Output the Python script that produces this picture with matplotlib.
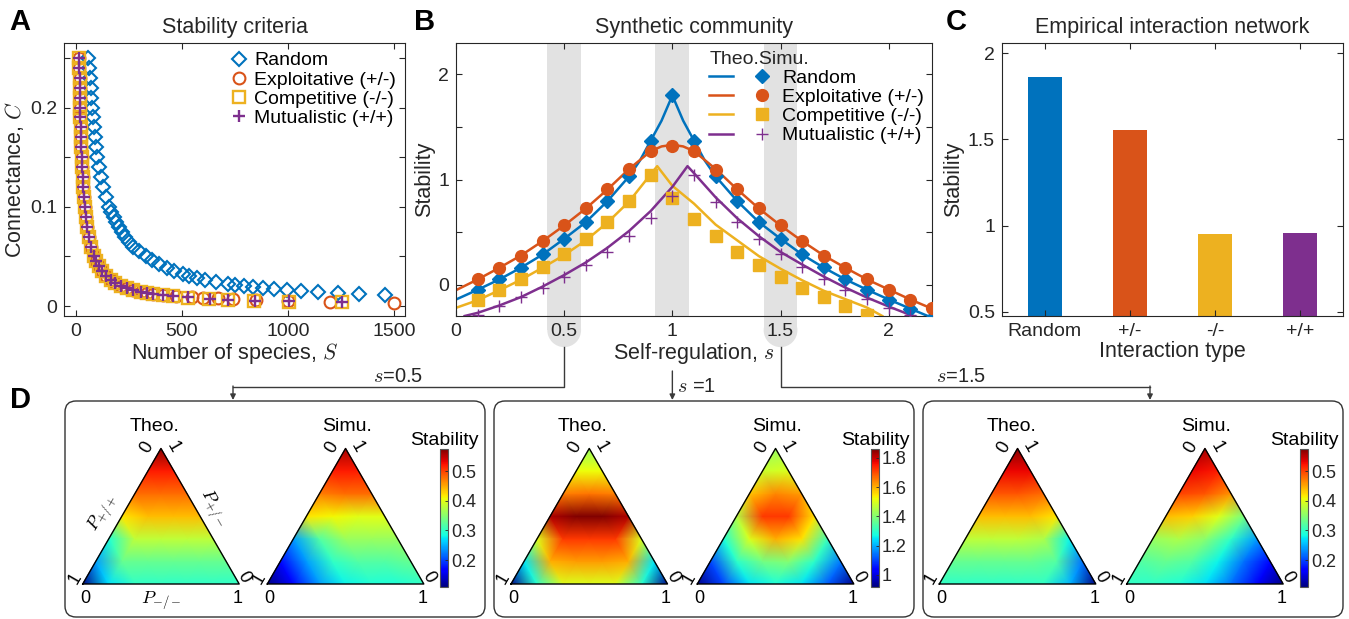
import numpy as np
import matplotlib
matplotlib.use('Agg')
import matplotlib.pyplot as plt
import matplotlib.tri as mtri
import matplotlib.transforms as mtrans
from matplotlib.patches import FancyBboxPatch, Rectangle, Ellipse
from matplotlib.legend_handler import HandlerTuple

plt.rcParams['font.family'] = ['Liberation Sans', 'DejaVu Sans']
plt.rcParams['mathtext.fontset'] = 'cm'

# ---- colours (MATLAB defaults) ----
BLUE, ORANGE, YELLOW, PURPLE = '#0072BD', '#D95319', '#EDB120', '#7E2F8E'
TXT = '#262626'

# ---- panel A: stability criteria ----
S_random = [58, 63, 66, 70, 74, 78, 83, 87, 92, 97, 101, 109, 118, 128, 142, 158,
            167, 178, 189, 202, 216, 232, 250, 271, 297, 330, 358, 392, 430, 465,
            505, 535, 570, 610, 660, 716, 750, 790, 833, 880, 935, 995, 1060, 1140,
            1233, 1332, 1458]
C_random = [0.250, 0.240, 0.230, 0.220, 0.210, 0.200, 0.190, 0.180, 0.170, 0.160,
            0.150, 0.140, 0.130, 0.120, 0.110, 0.100, 0.095, 0.090, 0.085, 0.080,
            0.075, 0.070, 0.065, 0.060, 0.055, 0.050, 0.046, 0.042, 0.038, 0.035,
            0.032, 0.030, 0.028, 0.026, 0.024, 0.022, 0.021, 0.020, 0.019, 0.018,
            0.017, 0.016, 0.015, 0.014, 0.013, 0.012, 0.011]

S_lower = [16, 17, 18, 19, 20, 21, 22, 23, 25, 27, 29, 31, 33, 35, 38, 42, 47, 53,
           61, 72, 87, 96, 108, 123, 143, 166, 187, 215, 240, 270, 307, 335, 365, 410]
C_lower = [0.25, 0.24, 0.23, 0.22, 0.21, 0.20, 0.19, 0.18, 0.17, 0.16, 0.15, 0.14,
           0.13, 0.12, 0.11, 0.10, 0.09, 0.08, 0.07, 0.06, 0.05, 0.045, 0.04, 0.035,
           0.03, 0.026, 0.023, 0.020, 0.018, 0.016, 0.014, 0.013, 0.012, 0.011]
S_exp_tail = [470, 546, 600, 670, 742, 850, 997, 1195, 1497]
C_exp_tail = [0.0100, 0.0090, 0.0085, 0.0078, 0.0070, 0.0062, 0.0052, 0.0042, 0.0032]
S_comp_tail = [460, 530, 628, 716, 838, 1006, 1253]
C_comp_tail = [0.0098, 0.0085, 0.0072, 0.0062, 0.0053, 0.0045, 0.0036]
S_mut_tail = [460, 530, 631, 716, 844, 1006, 1253]
C_mut_tail = [0.0100, 0.0088, 0.0074, 0.0064, 0.0056, 0.0049, 0.0042]

# ---- panel B: synthetic community ----
s_theo_rand = [0, 0.1, 0.2, 0.3, 0.4, 0.5, 0.6, 0.7, 0.8, 0.85, 0.9, 0.95, 1.0, 1.05,
               1.1, 1.15, 1.2, 1.3, 1.4, 1.5, 1.6, 1.7, 1.8, 1.9, 2.0, 2.1, 2.2]
theo_rand = [-0.143, -0.05, 0.048, 0.16, 0.285, 0.435, 0.594, 0.794, 1.03, 1.18, 1.37,
             1.56, 1.80, 1.56, 1.37, 1.18, 1.03, 0.794, 0.594, 0.435, 0.285, 0.16,
             0.048, -0.05, -0.143, -0.23, -0.317]
s_theo_exp = [0, 0.1, 0.2, 0.3, 0.4, 0.5, 0.6, 0.7, 0.8, 0.9, 0.95, 1.0, 1.05, 1.1,
              1.2, 1.3, 1.4, 1.5, 1.6, 1.7, 1.8, 1.9, 2.0, 2.1, 2.2]
theo_exp = [-0.054, 0.048, 0.159, 0.276, 0.413, 0.562, 0.724, 0.905, 1.10, 1.27, 1.315,
            1.33, 1.315, 1.27, 1.10, 0.905, 0.724, 0.562, 0.413, 0.276, 0.159, 0.048,
            -0.048, -0.143, -0.23]
s_theo_comp = [0, 0.1, 0.2, 0.3, 0.4, 0.5, 0.6, 0.7, 0.8, 0.9, 0.93, 1.0, 1.1, 1.2,
               1.3, 1.4, 1.5, 1.6, 1.7, 1.8, 1.9, 1.97]
theo_comp = [-0.222, -0.15, -0.055, 0.045, 0.16, 0.28, 0.42, 0.59, 0.79, 1.05, 1.127,
             0.94, 0.77, 0.57, 0.42, 0.27, 0.15, 0.04, -0.06, -0.14, -0.22, -0.30]
s_theo_mut = [0.04, 0.1, 0.2, 0.3, 0.4, 0.5, 0.6, 0.7, 0.8, 0.9, 1.0, 1.07, 1.1, 1.2,
              1.3, 1.4, 1.5, 1.6, 1.7, 1.8, 1.9, 2.0, 2.1, 2.13]
theo_mut = [-0.30, -0.27, -0.20, -0.12, -0.02, 0.09, 0.21, 0.35, 0.51, 0.70, 0.93, 1.127,
            1.06, 0.83, 0.63, 0.46, 0.31, 0.19, 0.075, -0.03, -0.125, -0.21, -0.29, -0.31]

s_simu = [0.1, 0.2, 0.3, 0.4, 0.5, 0.6, 0.7, 0.8, 0.9, 1.0, 1.1, 1.2, 1.3, 1.4, 1.5,
          1.6, 1.7, 1.8, 1.9, 2.0, 2.1, 2.2]
simu_rand = [-0.048, 0.048, 0.159, 0.286, 0.435, 0.594, 0.794, 1.03, 1.371, 1.80, 1.371,
             1.03, 0.794, 0.594, 0.435, 0.286, 0.165, 0.048, -0.054, -0.143, -0.232, -0.317]
simu_exp = [0.048, 0.159, 0.276, 0.413, 0.562, 0.724, 0.905, 1.102, 1.276, 1.317, 1.270,
            1.095, 0.905, 0.724, 0.562, 0.413, 0.276, 0.159, 0.048, -0.048, -0.143, -0.222]
simu_comp = [-0.143, -0.048, 0.048, 0.165, 0.286, 0.429, 0.597, 0.794, 1.041, 0.825,
             0.625, 0.46, 0.308, 0.184, 0.073, -0.035, -0.121, -0.206, -0.286]
simu_mut = [-0.286, -0.2, -0.121, -0.032, 0.073, 0.184, 0.311, 0.46, 0.635, 0.841, 1.041,
            0.787, 0.597, 0.429, 0.286, 0.165, 0.048, -0.048, -0.137, -0.222, -0.295]
band_centres = [0.5, 1.0, 1.5]

# ---- panel C: empirical network ----
types = ['Random', '+/-', '-/-', '+/+']
empirical = [1.863, 1.552, 0.952, 0.955]

# ---- panel D: ternary stability maps, rows from base (7 nodes) to apex (1 node) ----
theo_05 = [[0.11, 0.27, 0.30, 0.30, 0.30, 0.30, 0.30],
           [0.24, 0.33, 0.33, 0.33, 0.33, 0.33],
           [0.29, 0.38, 0.38, 0.38, 0.38],
           [0.42, 0.44, 0.44, 0.44],
           [0.48, 0.48, 0.48],
           [0.52, 0.52],
           [0.57]]
simu_05 = [[0.11, 0.17, 0.24, 0.28, 0.29, 0.29, 0.30],
           [0.17, 0.24, 0.30, 0.32, 0.32, 0.33],
           [0.24, 0.32, 0.36, 0.36, 0.36],
           [0.42, 0.41, 0.40, 0.40],
           [0.47, 0.48, 0.48],
           [0.52, 0.52],
           [0.56]]
theo_10 = [[0.93, 1.30, 1.50, 1.50, 1.50, 1.30, 0.93],
           [1.25, 1.60, 1.62, 1.62, 1.60, 1.25],
           [1.50, 1.72, 1.72, 1.72, 1.50],
           [1.82, 1.86, 1.86, 1.82],
           [1.65, 1.66, 1.65],
           [1.52, 1.52],
           [1.42]]
simu_10 = [[0.93, 1.10, 1.25, 1.28, 1.25, 1.12, 0.93],
           [1.10, 1.30, 1.38, 1.40, 1.30, 1.15],
           [1.28, 1.50, 1.60, 1.55, 1.32],
           [1.45, 1.72, 1.72, 1.55],
           [1.58, 1.64, 1.62],
           [1.48, 1.50],
           [1.42]]
theo_15 = [[0.30, 0.30, 0.30, 0.30, 0.30, 0.25, 0.11],
           [0.33, 0.33, 0.33, 0.33, 0.32, 0.22],
           [0.38, 0.38, 0.38, 0.37, 0.28],
           [0.44, 0.44, 0.44, 0.42],
           [0.49, 0.49, 0.48],
           [0.53, 0.53],
           [0.57]]
simu_15 = [[0.30, 0.30, 0.29, 0.27, 0.22, 0.16, 0.11],
           [0.32, 0.33, 0.32, 0.28, 0.22, 0.17],
           [0.36, 0.37, 0.35, 0.30, 0.24],
           [0.44, 0.43, 0.40, 0.34],
           [0.50, 0.49, 0.46],
           [0.53, 0.52],
           [0.56]]
clims = [(0.11, 0.575), (0.92, 1.86), (0.11, 0.575)]
cbar_ticks = [[0.2, 0.3, 0.4, 0.5], [1, 1.2, 1.4, 1.6, 1.8], [0.2, 0.3, 0.4, 0.5]]
cbar_labels = [['0.2', '0.3', '0.4', '0.5'], ['1', '1.2', '1.4', '1.6', '1.8'],
               ['0.2', '0.3', '0.4', '0.5']]
s_labels = [r'$s$=0.5', r'$s$ =1', r'$s$=1.5']

W, H = 1349, 619
fig = plt.figure(figsize=(W / 100, H / 100), dpi=100)

FS_TICK, FS_LAB, FS_TITLE, FS_LEG = 14, 15.5, 15.5, 14


def px_axes(l, t, r, b, **kw):
    return fig.add_axes([l / W, 1 - b / H, (r - l) / W, (b - t) / H], **kw)


def style_axes(ax):
    ax.tick_params(direction='in', top=True, right=True, length=4, width=0.8,
                   labelsize=FS_TICK, colors=TXT, pad=5)
    for sp in ax.spines.values():
        sp.set_color(TXT)
        sp.set_linewidth(0.8)


# ================= A =================
axA = px_axes(64, 43, 405, 316)
mk = dict(linestyle='none', mfc='none')
axA.plot(S_random, C_random, marker='D', mec=BLUE, ms=7.5, mew=1.5, label='Random', **mk)
axA.plot(S_lower + S_exp_tail, C_lower + C_exp_tail, marker='o', mec=ORANGE, ms=8.5,
         mew=1.5, label='Exploitative (+/-)', **mk)
axA.plot(S_lower + S_comp_tail, C_lower + C_comp_tail, marker='s', mec=YELLOW, ms=8,
         mew=1.7, label='Competitive (-/-)', **mk)
axA.plot(S_lower + S_mut_tail, C_lower + C_mut_tail, marker='+', mec=PURPLE, ms=8,
         mew=1.7, label='Mutualistic (+/+)', linestyle='none')
axA.set_xlim(-55, 1550)
axA.set_ylim(-0.01, 0.265)
axA.set_xticks([0, 500, 1000, 1500])
axA.set_yticks([0, 0.05, 0.1, 0.15, 0.2, 0.25])
axA.set_yticklabels(['0', '', '0.1', '', '0.2', ''])
style_axes(axA)
axA.set_xlabel('Number of species, $S$', fontsize=FS_LAB, color=TXT, labelpad=1)
axA.set_ylabel('Connectance, $C$', fontsize=FS_LAB, color=TXT, labelpad=3)
axA.set_title('Stability criteria', fontsize=FS_TITLE, color=TXT, pad=7)
axA.legend(loc='upper right', frameon=False, fontsize=FS_LEG, handlelength=1.0,
           handletextpad=0.3, labelspacing=0.08, borderaxespad=0.25, borderpad=0.2)

# ================= B =================
axB = px_axes(456, 43, 932, 316)
axB.patch.set_alpha(0)
blend = mtrans.blended_transform_factory(axB.transData, axB.transAxes)
hw = 0.078
for c in band_centres:
    axB.axvspan(c - hw, c + hw, color='#e2e2e2', lw=0, zorder=0)
    if c != 1.0:
        axB.add_patch(Rectangle((c - hw, -0.052), 2 * hw, 0.052, transform=blend,
                                color='#e2e2e2', lw=0, clip_on=False, zorder=0))
        axB.add_patch(Ellipse((c, -0.052), 2 * hw, 0.124, transform=blend,
                              color='#e2e2e2', lw=0, clip_on=False, zorder=0))

series = [
    (s_theo_rand, theo_rand, simu_rand, BLUE, dict(marker='D', ms=7.5, mfc=BLUE, mec=BLUE), 'Random'),
    (s_theo_exp, theo_exp, simu_exp, ORANGE, dict(marker='o', ms=8.5, mfc=ORANGE, mec=ORANGE), 'Exploitative (+/-)'),
    (s_theo_comp, theo_comp, simu_comp, YELLOW, dict(marker='s', ms=8.5, mfc=YELLOW, mec=YELLOW), 'Competitive (-/-)'),
    (s_theo_mut, theo_mut, simu_mut, PURPLE, dict(marker='+', ms=8, mec=PURPLE, mew=1.0), 'Mutualistic (+/+)'),
]
handles, labels = [], []
for s_t, th, sim, col, mstyle, lab in series:
    ln, = axB.plot(s_t, th, color=col, lw=1.8, zorder=2)
    mkr, = axB.plot(s_simu[:len(sim)], sim, linestyle='none', zorder=3, **mstyle)
    handles.append((ln, mkr))
    labels.append(lab)
axB.set_xlim(0, 2.2)
axB.set_ylim(-0.3, 2.3)
axB.set_xticks([0, 0.5, 1, 1.5, 2])
axB.set_xticklabels(['0', '0.5', '1', '1.5', '2'])
axB.set_yticks([0, 0.5, 1, 1.5, 2])
axB.set_yticklabels(['0', '', '1', '', '2'])
style_axes(axB)
axB.set_xlabel('Self-regulation, $s$', fontsize=FS_LAB, color=TXT, labelpad=1)
axB.set_ylabel('Stability', fontsize=FS_LAB, color=TXT, labelpad=2)
axB.set_title('Synthetic community', fontsize=FS_TITLE, color=TXT, pad=7)
legB = axB.legend(handles, labels, handler_map={tuple: HandlerTuple(ndivide=None, pad=0.9)},
                  title='Theo.Simu.', alignment='left', loc='upper right', frameon=False,
                  fontsize=FS_LEG, title_fontsize=FS_LEG, handlelength=3.3, handletextpad=0.45,
                  labelspacing=0.08, borderaxespad=0.2, borderpad=0.2)
legB.get_title().set_color(TXT)

# ================= C =================
axC = px_axes(1002, 43, 1343, 316)
xpos = np.arange(1, len(types) + 1)
axC.bar(xpos, empirical, width=0.4, color=[BLUE, ORANGE, YELLOW, PURPLE])
axC.set_xlim(0.5, 4.5)
axC.set_ylim(0.475, 2.06)
axC.set_xticks(xpos)
axC.set_xticklabels(types)
axC.set_yticks([0.5, 1, 1.5, 2])
axC.set_yticklabels(['0.5', '1', '1.5', '2'])
style_axes(axC)
axC.set_xlabel('Interaction type', fontsize=FS_LAB, color=TXT, labelpad=1)
axC.set_ylabel('Stability', fontsize=FS_LAB, color=TXT, labelpad=3)
axC.set_title('Empirical interaction network', fontsize=FS_TITLE, color=TXT, pad=7)

# panel letters
for lab, x, y in [('A', 20, 22), ('B', 425, 22), ('C', 956, 22), ('D', 20, 400)]:
    fig.text(x / W, 1 - y / H, lab, fontsize=21, fontweight='bold', ha='center',
             va='center', color='k')

# ================= D =================
ov = fig.add_axes([0, 0, 1, 1], zorder=5)
ov.set_xlim(0, W)
ov.set_ylim(H, 0)
ov.axis('off')

box_lefts = [65, 494, 923]
for bx in box_lefts:
    ov.add_patch(FancyBboxPatch((bx, 401), 420, 216, boxstyle='round,pad=0,rounding_size=11',
                                fc='none', ec='#333333', lw=1.0))


def to_ov(s):
    return ov.transData.inverted().transform(axB.transData.transform((s, 0)))[0]


LC = '#3a3a3a'
arrow_kw = dict(arrowstyle='-|>', lw=1.0, color=LC, mutation_scale=8, shrinkA=0, shrinkB=0)
x05, x10, x15 = to_ov(0.5), to_ov(1.0), to_ov(1.5)
ov.plot([x05, x05, 233], [347, 386.5, 386.5], color=LC, lw=1.0)
ov.annotate('', xy=(233, 400), xytext=(233, 386), arrowprops=arrow_kw)
ov.annotate('', xy=(x10, 400), xytext=(x10, 371), arrowprops=arrow_kw)
ov.plot([x15, x15, 1150], [347, 386.5, 386.5], color=LC, lw=1.0)
ov.annotate('', xy=(1150, 400), xytext=(1150, 386), arrowprops=arrow_kw)
ov.text(398, 377, s_labels[0], fontsize=14.5, ha='center', va='center', color=TXT)
ov.text(x10 + 5, 386, s_labels[1], fontsize=14.5, ha='left', va='center', color=TXT)
ov.text(961, 376, s_labels[2], fontsize=14.5, ha='center', va='center', color=TXT)

# lattice for ternary maps
NL = 6
tx, ty = [], []
for r in range(NL + 1):
    for i in range(NL + 1 - r):
        tx.append((i + r / 2) / NL)
        ty.append(r / NL * np.sqrt(3) / 2)
tri = mtri.Triangulation(tx, ty)
TH = np.sqrt(3) / 2
TW = 156.5
BASE = 584

maps = [(theo_05, simu_05), (theo_10, simu_10), (theo_15, simu_15)]
tri_lefts = [(82.7, 267.3), (511, 697.3), (939.3, 1126.7)]
cbar_lefts = [440, 871, 1300]

for k in range(3):
    vmin, vmax = clims[k]
    for j, (vals, title) in enumerate(zip(maps[k], ['Theo.', 'Simu.'])):
        xl = tri_lefts[k][j]
        tax = px_axes(xl, BASE - TW * TH, xl + TW, BASE, zorder=6)
        tax.set_xlim(0, 1)
        tax.set_ylim(0, TH)
        tax.axis('off')
        z = np.concatenate([np.asarray(row, float) for row in vals])
        tpc = tax.tripcolor(tri, z, shading='gouraud', cmap='jet', vmin=vmin, vmax=vmax)
        tax.plot([0, 1, 0.5, 0], [0, 0, TH, 0], color='k', lw=1.0, clip_on=False)
        tkw = dict(fontsize=13, color='k', ha='center', va='center', clip_on=False)
        tax.text(0.015, -0.095, '0', **tkw)
        tax.text(0.99, -0.095, '1', **tkw)
        tax.text(-0.05, 0.035, '1', rotation=60, **tkw)
        tax.text(1.03, 0.045, '0', rotation=-60, **tkw)
        tax.text(0.41, TH + 0.005, '0', rotation=60, **tkw)
        tax.text(0.575, TH + 0.01, '1', rotation=-60, **tkw)
        tax.text(0.46 if j == 0 else 0.51, 1.005, title, fontsize=14, color='k',
                 ha='center', va='center', clip_on=False)
        if k == 0 and j == 0:
            tax.text(0.13, 0.454, r'$P_{+/+}$', rotation=60, fontsize=13, ha='center',
                     va='center', clip_on=False)
            tax.text(0.833, 0.486, r'$P_{+/-}$', rotation=-60, fontsize=13, ha='center',
                     va='center', clip_on=False)
            tax.text(0.5, -0.105, r'$P_{-/-}$', fontsize=13, ha='center', va='center',
                     clip_on=False)
    cax = px_axes(cbar_lefts[k], 449, cbar_lefts[k] + 8.3, 586.7, zorder=6)
    cb = fig.colorbar(tpc, cax=cax)
    cb.set_ticks(cbar_ticks[k])
    cb.set_ticklabels(cbar_labels[k])
    cb.outline.set_linewidth(0.8)
    cb.outline.set_edgecolor('#555555')
    cax.tick_params(labelsize=13, length=2.5, width=0.6, direction='in', pad=2, colors=TXT)
    cax.set_title('Stability', fontsize=14, color='k', pad=3)

fig.savefig('out.png', dpi=100)
